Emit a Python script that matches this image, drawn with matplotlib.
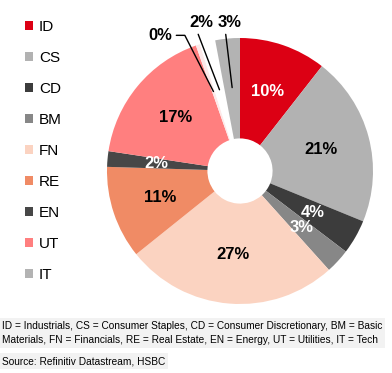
import matplotlib
matplotlib.use("Agg")
from matplotlib import pyplot as plt
import numpy as np

# sector shares, clockwise from 12 o'clock
sectors = ["ID", "CS", "CD", "BM", "FN", "RE", "EN", "UT", "n/a", "other", "IT"]
shares = [10.6, 20.7, 4.2, 3.0, 26.0, 11.3, 1.9, 17.3, 0.5, 1.9, 3.0]
pct_labels = ["10%", "21%", "4%", "3%", "27%", "11%", "2%", "17%", "0%", "2%", "3%"]
colors = ["#dc0014", "#b2b2b2", "#3c3c3c", "#878787", "#fbd3c1", "#f08b65",
          "#474747", "#ff7f7f", "#fde9e9", "#ffffff", "#b3b3b3"]
label_colors = ["white", "black", "white", "white", "black", "black",
                "white", "black", "black", "black", "black"]
legend_sectors = ["ID", "CS", "CD", "BM", "FN", "RE", "EN", "UT", "IT"]

footnote = ("ID = Industrials, CS = Consumer Staples, CD = Consumer Discretionary, BM = Basic\n"
            "Materials, FN = Financials, RE = Real Estate, EN = Energy, UT = Utilities, IT = Tech")
source = "Source: Refinitiv Datastream, HSBC"

NARROW = ["Liberation Sans Narrow", "Liberation Sans", "DejaVu Sans"]
plt.rcParams["font.family"] = NARROW

W, H = 392, 373
fig = plt.figure(figsize=(W / 100, H / 100), dpi=100)

# pie centred at (240, 171) px with radius 133 px
cx, cy, r = 240, 171, 133
ax = fig.add_axes([(cx - r) / W, 1 - (cy + r) / H, 2 * r / W, 2 * r / H])
wedges, _ = ax.pie(shares, colors=colors, startangle=90, counterclock=False,
                   radius=1, wedgeprops=dict(width=0.755, linewidth=0))
ax.set_xlim(-1, 1)
ax.set_ylim(-1, 1)
ax.axis("off")

# outside labels for the small slices at the top
outside = {8: (-0.60, 1.02), 9: (-0.29, 1.115), 10: (-0.075, 1.115)}

for i, w in enumerate(wedges):
    mid = np.deg2rad((w.theta1 + w.theta2) / 2)
    if i in outside:
        tx, ty = outside[i]
        px, py = 0.63 * np.cos(mid), 0.63 * np.sin(mid)
        if i == 8:
            conn = dict(arrowstyle="-", color="black", lw=1, relpos=(1.0, 0.5),
                        shrinkA=1, shrinkB=0,
                        connectionstyle="angle,angleA=0,angleB=-63,rad=0")
        else:
            conn = dict(arrowstyle="-", color="black", lw=1, relpos=(0.3, 0.0),
                        shrinkA=1, shrinkB=0)
        ax.annotate(pct_labels[i], xy=(px, py), xytext=(tx, ty),
                    ha="center", va="center", fontsize=12, fontweight="bold",
                    color=label_colors[i], arrowprops=conn)
    else:
        ax.text(0.63 * np.cos(mid), 0.63 * np.sin(mid), pct_labels[i],
                ha="center", va="center", fontsize=12, fontweight="bold",
                color=label_colors[i])

handles = [wedges[sectors.index(s)] for s in legend_sectors]
fig.legend(handles, legend_sectors, loc="upper left",
           bbox_to_anchor=(25 / W, 1 - 20 / H), frameon=False, fontsize=11,
           handlelength=0.55, handleheight=0.55, handletextpad=0.35,
           labelspacing=1.11, borderaxespad=0, borderpad=0)

fig.text(2 / W, 1 - 333 / H, footnote, fontsize=7.3, va="center", ha="left",
         linespacing=1.45,
         bbox=dict(facecolor="#f2f2f2", edgecolor="none", pad=2))
fig.text(2 / W, 1 - 361 / H, source, fontsize=7.3, va="center", ha="left",
         bbox=dict(facecolor="#f2f2f2", edgecolor="none", pad=2))

fig.savefig("out.png", dpi=100)
